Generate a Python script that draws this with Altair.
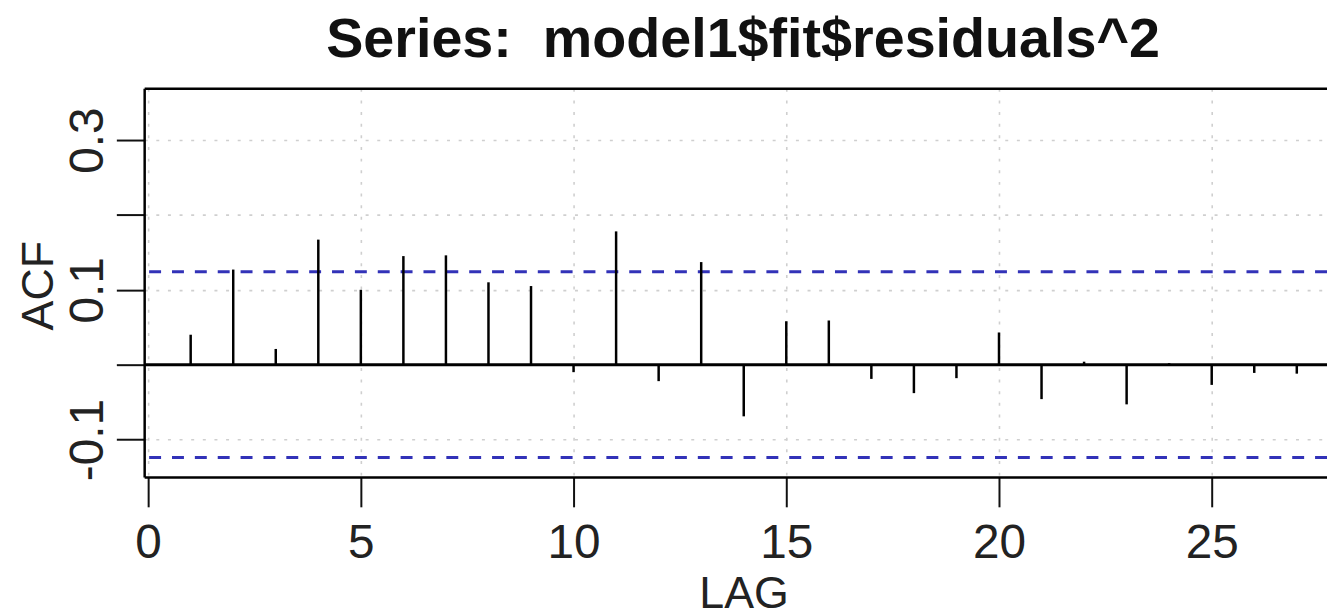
import altair as alt
import pandas as pd

# ---- data ----
lags = list(range(1, 28))
acf_values = [0.040, 0.127, 0.021, 0.167, 0.100, 0.145, 0.146, 0.110, 0.105, -0.010,
              0.178, -0.022, 0.137, -0.069, 0.058, 0.059, -0.019, -0.038, -0.018, 0.043,
              -0.046, 0.004, -0.053, 0.002, -0.027, -0.011, -0.012]
ci_bounds = [0.124, -0.124]
zero_level = [0.0]
x_tick_values = [0, 5, 10, 15, 20, 25]
y_tick_values = [-0.1, 0.0, 0.1, 0.2, 0.3]
y_tick_labels = ["-0.1", "", "0.1", "", "0.3"]
title_text = "Series:\u00a0 model1$fit$residuals^2"
x_title = "LAG"
y_title = "ACF"

df = pd.DataFrame({"lag": lags, "acf": acf_values})
ci_df = pd.DataFrame({"ci": ci_bounds})
zero_df = pd.DataFrame({"z": zero_level})

parts = [f"abs(datum.value - ({v})) < 1e-6 ? '{lab}'" for v, lab in zip(y_tick_values, y_tick_labels)]
label_expr = " : ".join(parts) + " : ''"

FONT = "Liberation Sans"
xscale = alt.Scale(domain=[-0.093, 27.71], nice=False, zero=False)
yscale = alt.Scale(domain=[-0.150, 0.369], nice=False, zero=False)

grid_color = "#cfcfcf"

x_axis = alt.Axis(
    values=x_tick_values, title=x_title, grid=True, gridColor=grid_color,
    gridDash=[3, 8.7], gridWidth=1.6, domainColor="black", domainWidth=2.5,
    tickColor="#111", tickWidth=2, tickSize=30, labelFontSize=48, labelFont=FONT,
    labelColor="#222", labelPadding=13, labelFlush=False, labelOverlap=False,
    titleFontSize=45, titleFont=FONT, titleFontWeight="normal", titleColor="#222",
    titleX=603, titleY=131, titleBaseline="alphabetic", titleAlign="center",
)

y_axis = alt.Axis(
    values=y_tick_values, labelExpr=label_expr, title=y_title, grid=True,
    gridColor=grid_color, gridDash=[3, 8.7], gridWidth=1.6, domainColor="black",
    domainWidth=2.5, tickColor="#111", tickWidth=2, tickSize=28, labelFontSize=48,
    labelFont=FONT, labelColor="#222", labelAngle=270, labelAlign="center",
    labelBaseline="alphabetic", labelPadding=14, labelFlush=False, labelOverlap=False,
    titleFontSize=45, titleFont=FONT, titleFontWeight="normal", titleColor="#222",
    titleAngle=270, titleX=-92, titleY=198, titleBaseline="alphabetic", titleAlign="center",
)

# top frame line; its title carries the chart title
top_axis = alt.Axis(
    orient="top", labels=False, ticks=False, grid=False,
    domainColor="black", domainWidth=2.5, title=title_text,
    titleFontSize=56, titleFont=FONT, titleFontWeight="bold", titleColor="#111",
    titleX=602, titleY=-32, titleBaseline="alphabetic", titleAlign="center", titleAngle=0,
)

ci = alt.Chart(ci_df).mark_rule(color="#3232b8", strokeDash=[12, 11], strokeWidth=3).encode(
    y=alt.Y("ci:Q", scale=yscale, axis=y_axis)
)
zero = alt.Chart(zero_df).mark_rule(color="black", strokeWidth=3).encode(
    y=alt.Y("z:Q", scale=yscale, axis=y_axis)
)
bars = alt.Chart(df).mark_rule(color="black", strokeWidth=2.5).encode(
    x=alt.X("lag:Q", scale=xscale, axis=x_axis),
    y=alt.Y("acf:Q", scale=yscale, axis=y_axis),
    y2=alt.datum(0),
)
top = alt.Chart(df).mark_point(opacity=0).encode(
    x=alt.X("lag:Q", scale=xscale, axis=top_axis)
)

chart = alt.layer(ci, zero, bars, top).resolve_axis(x="independent").properties(
    width=1190,
    height=391,
    padding={"left": 137, "top": 79, "right": 0, "bottom": 138},
    autosize=alt.AutoSizeParams(type="none"),
).configure_view(strokeWidth=0)

chart.save("out.html", embed_options={"renderer": "svg", "actions": False})
